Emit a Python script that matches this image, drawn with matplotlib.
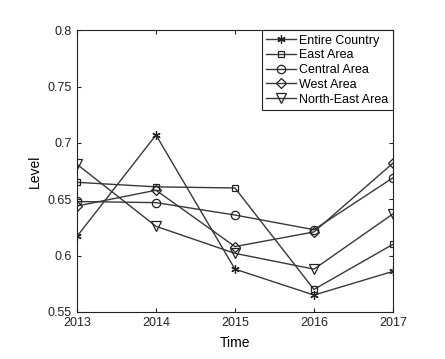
import matplotlib
matplotlib.use('Agg')
from matplotlib import pyplot as plt

years = [2013, 2014, 2015, 2016, 2017]
entire_country = [0.617, 0.707, 0.588, 0.565, 0.586]
east_area = [0.665, 0.661, 0.660, 0.570, 0.610]
central_area = [0.648, 0.647, 0.636, 0.623, 0.669]
west_area = [0.644, 0.658, 0.608, 0.621, 0.682]
north_east_area = [0.681, 0.626, 0.602, 0.588, 0.637]

plt.rcParams['font.family'] = ['Liberation Sans', 'DejaVu Sans']

fig = plt.figure(figsize=(4.45, 3.59), dpi=100)
ax = fig.add_axes([0.173, 0.131, 0.71, 0.785])

line_col = '#383838'
common = dict(color=line_col, linewidth=1.0, markersize=6,
              markerfacecolor='none', markeredgecolor='#222222', markeredgewidth=0.9)
ax.plot(years, entire_country, marker=(6, 2, 0), label='Entire Country', **common)
ax.plot(years, east_area, marker='s', label='East Area', **dict(common, markersize=5))
ax.plot(years, central_area, marker='o', label='Central Area', **dict(common, markersize=6))
ax.plot(years, west_area, marker='D', label='West Area', **dict(common, markersize=5))
ax.plot(years, north_east_area, marker='v', label='North-East Area', **dict(common, markersize=6.5))

ax.set_xlim(2013, 2017)
ax.set_ylim(0.55, 0.8)
ax.set_xticks(years)
ax.set_yticks([0.55, 0.6, 0.65, 0.7, 0.75, 0.8])
ax.set_yticklabels(['0.55', '0.6', '0.65', '0.7', '0.75', '0.8'])
ax.tick_params(direction='in', top=True, right=True, labelsize=9, length=3, colors='#222222')
for s in ax.spines.values():
    s.set_color('#222222')
    s.set_linewidth(0.8)

ax.set_xlabel('Time', fontsize=10, labelpad=5)
ax.set_ylabel('Level', fontsize=10)

leg = ax.legend(loc='upper right', fontsize=9, fancybox=False, framealpha=1,
                edgecolor='#222222', borderaxespad=0, handlelength=2.4,
                labelspacing=0.22, borderpad=0.35, handletextpad=0.25)
leg.get_frame().set_linewidth(0.8)

fig.savefig('out.png', dpi=100)
